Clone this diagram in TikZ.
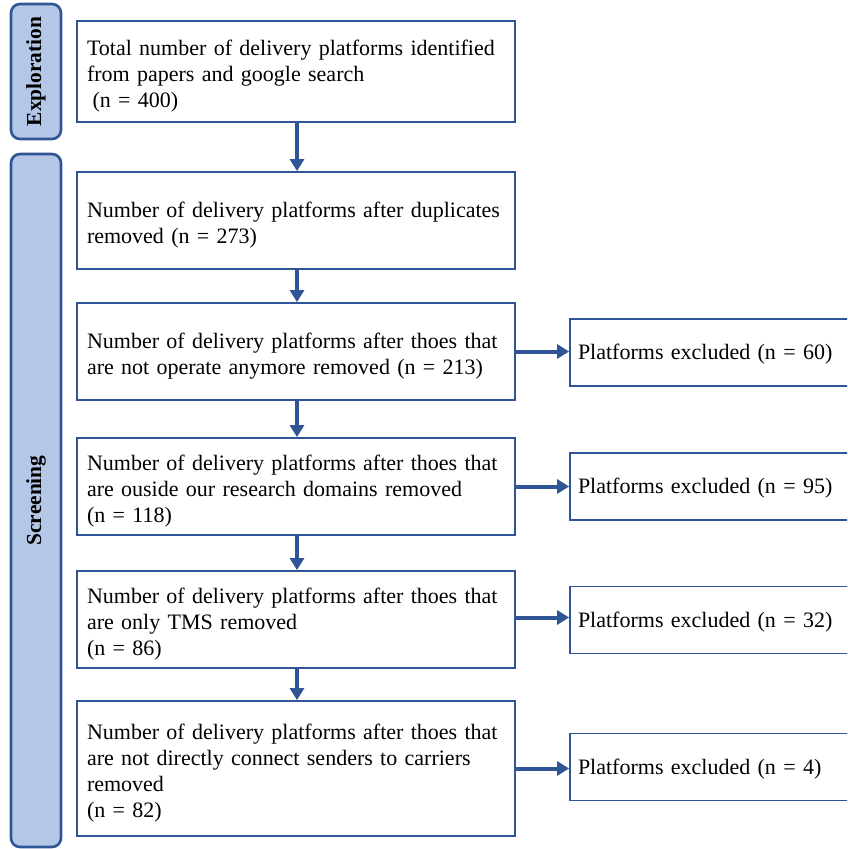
\documentclass[tikz,border=0pt]{standalone}
\usepackage{fontspec}
\setmainfont{Liberation Serif}
\usetikzlibrary{arrows.meta}

\definecolor{frameblue}{HTML}{2F5597}
\definecolor{barfill}{HTML}{B4C7E7}

% one unbreakable line of box text
\newcommand\boxline[1]{\mbox{#1}}

\tikzset{
  stagebar/.style={draw=frameblue, line width=2.6pt, fill=barfill, rounded corners=9pt,
    rotate=90, font=\fontsize{21.4}{24}\selectfont\bfseries, inner sep=0pt},
  stepbox/.style={draw=frameblue, line width=1.8pt, fill=white, minimum width=438pt,
    text width=418pt, inner xsep=10pt, inner ysep=0pt, align=left,
    font=\fontsize{22}{26}\selectfont,
    execute at end node={\par\vspace*{-9pt}}},
  exclbox/.style={draw=frameblue, line width=1.8pt, fill=white, minimum width=300pt,
    text width=284pt, inner xsep=8pt, inner ysep=0pt, align=left, minimum height=67pt,
    font=\fontsize{22}{26}\selectfont,
    execute at end node={\par\vspace*{-4pt}}},
  flow/.style={draw=frameblue, line width=4pt, -{Triangle[width=14pt,length=12pt]}}
}

\begin{document}
\begin{tikzpicture}[x=1pt,y=-1pt]
\useasboundingbox (0,0) rectangle (847,849);
\begin{scope}
\clip (0,0) rectangle (847,849);

% phase bars on the left
\node[stagebar, minimum width=135pt, minimum height=50pt] (explore) at (36,71.5) {Exploration};
\node[stagebar, minimum width=693pt, minimum height=50pt] (screen) at (36,500.5) {Screening};

% main flow
\node[stepbox, minimum height=101pt] (b1) at (296,71.5)
  {\boxline{Total number of delivery platforms identified}\\
   \boxline{from papers and google search}\\
   \hspace*{0.25em}\boxline{(n = 400)}};
\node[stepbox, minimum height=97pt] (b2) at (296,220.5)
  {\boxline{Number of delivery platforms after duplicates}\\
   \boxline{removed (n = 273)}};
\node[stepbox, minimum height=97pt] (b3) at (296,351.5)
  {\boxline{Number of delivery platforms after thoes that}\\
   \boxline{are not operate anymore removed (n = 213)}};
\node[stepbox, minimum height=97pt] (b4) at (296,486.5)
  {\boxline{Number of delivery platforms after thoes that}\\
   \boxline{are ouside our research domains removed}\\
   \boxline{(n = 118)}};
\node[stepbox, minimum height=97pt] (b5) at (296,619.5)
  {\boxline{Number of delivery platforms after thoes that}\\
   \boxline{are only TMS removed}\\
   \boxline{(n = 86)}};
\node[stepbox, minimum height=135pt] (b6) at (296,768.5)
  {\boxline{Number of delivery platforms after thoes that}\\
   \boxline{are not directly connect senders to carriers}\\
   \boxline{removed}\\
   \boxline{(n = 82)}};

% exclusion boxes
\node[exclbox] (r1) at (720,352.5) {Platforms excluded (n = 60)};
\node[exclbox] (r2) at (720,486.5) {Platforms excluded (n = 95)};
\node[exclbox] (r3) at (720,620) {Platforms excluded (n = 32)};
\node[exclbox] (r4) at (720,767) {Platforms excluded (n = 4)};

% arrows
\foreach \a/\b in {b1/b2, b2/b3, b3/b4, b4/b5, b5/b6}
  \draw[flow] ([xshift=1pt]\a.south) -- ([xshift=1pt]\b.north);
\draw[flow] (b3.east) -- (b3.east -| r1.west);
\draw[flow] (b4.east) -- (b4.east -| r2.west);
\draw[flow] ([yshift=2pt]b5.east) -- ([yshift=2pt]b5.east -| r3.west);
\draw[flow] (b6.east) -- (b6.east -| r4.west);
\end{scope}
\end{tikzpicture}
\end{document}
